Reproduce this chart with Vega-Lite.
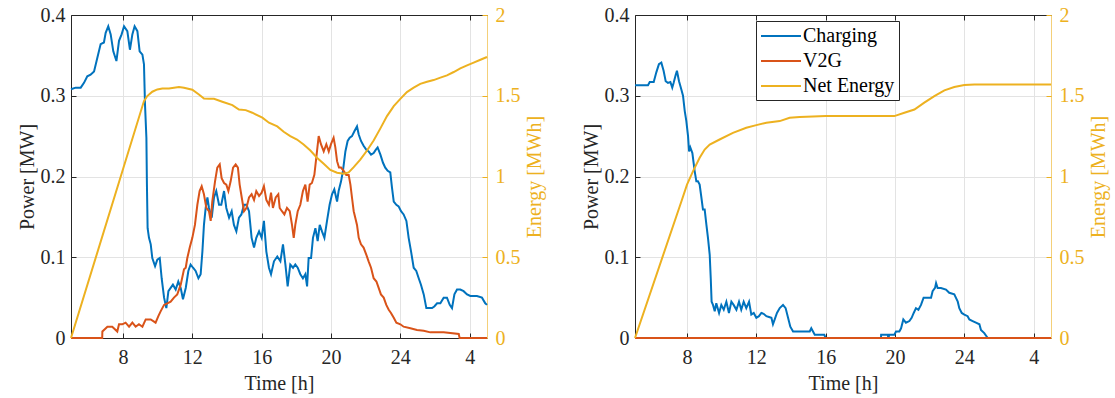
{
 "$schema": "https://vega.github.io/schema/vega-lite/v6.json",
 "background": "white",
 "padding": {"left": 17, "top": 5, "right": 5, "bottom": 5},
 "bounds": "flush",
 "spacing": 148,
 "config": {
  "font": "Liberation Serif, Times New Roman, serif",
  "view": {"stroke": null},
  "axis": {"labelFont": "Liberation Serif", "titleFont": "Liberation Serif", "labelFontSize": 20, "titleFontSize": 20, "titleFontWeight": "normal", "labelColor": "#262626", "titleColor": "#262626", "domainColor": "#262626", "tickColor": "#262626", "tickSize": -5, "labelPadding": 11, "gridColor": "#e3e3e3", "grid": false, "labelFlush": false, "labelOverlap": false},
  "legend": {"labelFont": "Liberation Serif"},
  "line": {"strokeWidth": 2}
 },
 "resolve": {"scale": {"color": "independent"}},
 "datasets": {
  "lp": [
   {"t":5,"v":0.308,"s":"Charging"},{"t":5.27,"v":0.31,"s":"Charging"},{"t":5.56,"v":0.31,"s":"Charging"},{"t":5.75,"v":0.316,"s":"Charging"},{"t":5.94,"v":0.324,"s":"Charging"},{"t":6.13,"v":0.326,"s":"Charging"},{"t":6.33,"v":0.33,"s":"Charging"},{"t":6.52,"v":0.347,"s":"Charging"},{"t":6.71,"v":0.364,"s":"Charging"},{"t":6.9,"v":0.366,"s":"Charging"},{"t":7.0,"v":0.378,"s":"Charging"},{"t":7.15,"v":0.386,"s":"Charging"},{"t":7.29,"v":0.376,"s":"Charging"},{"t":7.44,"v":0.355,"s":"Charging"},{"t":7.62,"v":0.343,"s":"Charging"},{"t":7.77,"v":0.368,"s":"Charging"},{"t":7.92,"v":0.376,"s":"Charging"},{"t":8.06,"v":0.386,"s":"Charging"},{"t":8.25,"v":0.38,"s":"Charging"},{"t":8.4,"v":0.357,"s":"Charging"},{"t":8.54,"v":0.376,"s":"Charging"},{"t":8.67,"v":0.386,"s":"Charging"},{"t":8.83,"v":0.38,"s":"Charging"},{"t":8.96,"v":0.355,"s":"Charging"},{"t":9.12,"v":0.351,"s":"Charging"},{"t":9.21,"v":0.339,"s":"Charging"},{"t":9.27,"v":0.289,"s":"Charging"},{"t":9.35,"v":0.248,"s":"Charging"},{"t":9.38,"v":0.19,"s":"Charging"},{"t":9.42,"v":0.136,"s":"Charging"},{"t":9.5,"v":0.124,"s":"Charging"},{"t":9.6,"v":0.116,"s":"Charging"},{"t":9.69,"v":0.099,"s":"Charging"},{"t":9.85,"v":0.089,"s":"Charging"},{"t":9.98,"v":0.097,"s":"Charging"},{"t":10.12,"v":0.099,"s":"Charging"},{"t":10.23,"v":0.074,"s":"Charging"},{"t":10.37,"v":0.05,"s":"Charging"},{"t":10.5,"v":0.037,"s":"Charging"},{"t":10.62,"v":0.058,"s":"Charging"},{"t":10.75,"v":0.062,"s":"Charging"},{"t":10.88,"v":0.066,"s":"Charging"},{"t":11.04,"v":0.06,"s":"Charging"},{"t":11.19,"v":0.07,"s":"Charging"},{"t":11.33,"v":0.062,"s":"Charging"},{"t":11.46,"v":0.048,"s":"Charging"},{"t":11.62,"v":0.062,"s":"Charging"},{"t":11.77,"v":0.083,"s":"Charging"},{"t":11.9,"v":0.091,"s":"Charging"},{"t":12.04,"v":0.087,"s":"Charging"},{"t":12.19,"v":0.083,"s":"Charging"},{"t":12.35,"v":0.074,"s":"Charging"},{"t":12.48,"v":0.079,"s":"Charging"},{"t":12.58,"v":0.107,"s":"Charging"},{"t":12.67,"v":0.14,"s":"Charging"},{"t":12.77,"v":0.161,"s":"Charging"},{"t":12.87,"v":0.174,"s":"Charging"},{"t":12.96,"v":0.161,"s":"Charging"},{"t":13.12,"v":0.149,"s":"Charging"},{"t":13.25,"v":0.174,"s":"Charging"},{"t":13.38,"v":0.182,"s":"Charging"},{"t":13.54,"v":0.165,"s":"Charging"},{"t":13.67,"v":0.165,"s":"Charging"},{"t":13.83,"v":0.182,"s":"Charging"},{"t":13.96,"v":0.161,"s":"Charging"},{"t":14.12,"v":0.149,"s":"Charging"},{"t":14.27,"v":0.157,"s":"Charging"},{"t":14.4,"v":0.14,"s":"Charging"},{"t":14.54,"v":0.132,"s":"Charging"},{"t":14.69,"v":0.149,"s":"Charging"},{"t":14.83,"v":0.153,"s":"Charging"},{"t":14.98,"v":0.165,"s":"Charging"},{"t":15.12,"v":0.165,"s":"Charging"},{"t":15.27,"v":0.157,"s":"Charging"},{"t":15.42,"v":0.124,"s":"Charging"},{"t":15.56,"v":0.112,"s":"Charging"},{"t":15.69,"v":0.124,"s":"Charging"},{"t":15.85,"v":0.132,"s":"Charging"},{"t":16.0,"v":0.124,"s":"Charging"},{"t":16.13,"v":0.145,"s":"Charging"},{"t":16.27,"v":0.107,"s":"Charging"},{"t":16.42,"v":0.087,"s":"Charging"},{"t":16.54,"v":0.079,"s":"Charging"},{"t":16.71,"v":0.095,"s":"Charging"},{"t":16.9,"v":0.101,"s":"Charging"},{"t":17.08,"v":0.095,"s":"Charging"},{"t":17.23,"v":0.116,"s":"Charging"},{"t":17.37,"v":0.091,"s":"Charging"},{"t":17.5,"v":0.064,"s":"Charging"},{"t":17.65,"v":0.091,"s":"Charging"},{"t":17.81,"v":0.087,"s":"Charging"},{"t":17.94,"v":0.091,"s":"Charging"},{"t":18.08,"v":0.087,"s":"Charging"},{"t":18.23,"v":0.079,"s":"Charging"},{"t":18.38,"v":0.074,"s":"Charging"},{"t":18.52,"v":0.079,"s":"Charging"},{"t":18.62,"v":0.064,"s":"Charging"},{"t":18.71,"v":0.099,"s":"Charging"},{"t":18.85,"v":0.099,"s":"Charging"},{"t":18.96,"v":0.124,"s":"Charging"},{"t":19.1,"v":0.136,"s":"Charging"},{"t":19.23,"v":0.12,"s":"Charging"},{"t":19.35,"v":0.14,"s":"Charging"},{"t":19.48,"v":0.132,"s":"Charging"},{"t":19.62,"v":0.124,"s":"Charging"},{"t":19.77,"v":0.145,"s":"Charging"},{"t":19.92,"v":0.165,"s":"Charging"},{"t":20.06,"v":0.178,"s":"Charging"},{"t":20.19,"v":0.184,"s":"Charging"},{"t":20.35,"v":0.169,"s":"Charging"},{"t":20.44,"v":0.182,"s":"Charging"},{"t":20.58,"v":0.194,"s":"Charging"},{"t":20.69,"v":0.207,"s":"Charging"},{"t":20.83,"v":0.231,"s":"Charging"},{"t":20.96,"v":0.244,"s":"Charging"},{"t":21.08,"v":0.248,"s":"Charging"},{"t":21.21,"v":0.25,"s":"Charging"},{"t":21.35,"v":0.256,"s":"Charging"},{"t":21.5,"v":0.262,"s":"Charging"},{"t":21.6,"v":0.252,"s":"Charging"},{"t":21.73,"v":0.244,"s":"Charging"},{"t":21.88,"v":0.238,"s":"Charging"},{"t":22.04,"v":0.233,"s":"Charging"},{"t":22.17,"v":0.231,"s":"Charging"},{"t":22.31,"v":0.227,"s":"Charging"},{"t":22.46,"v":0.229,"s":"Charging"},{"t":22.58,"v":0.233,"s":"Charging"},{"t":22.69,"v":0.236,"s":"Charging"},{"t":22.85,"v":0.227,"s":"Charging"},{"t":23.0,"v":0.217,"s":"Charging"},{"t":23.13,"v":0.211,"s":"Charging"},{"t":23.27,"v":0.207,"s":"Charging"},{"t":23.42,"v":0.205,"s":"Charging"},{"t":23.52,"v":0.186,"s":"Charging"},{"t":23.62,"v":0.169,"s":"Charging"},{"t":23.77,"v":0.165,"s":"Charging"},{"t":23.9,"v":0.163,"s":"Charging"},{"t":24.04,"v":0.157,"s":"Charging"},{"t":24.19,"v":0.153,"s":"Charging"},{"t":24.35,"v":0.145,"s":"Charging"},{"t":24.48,"v":0.124,"s":"Charging"},{"t":24.62,"v":0.107,"s":"Charging"},{"t":24.77,"v":0.087,"s":"Charging"},{"t":24.92,"v":0.083,"s":"Charging"},{"t":25.06,"v":0.074,"s":"Charging"},{"t":25.19,"v":0.066,"s":"Charging"},{"t":25.35,"v":0.054,"s":"Charging"},{"t":25.5,"v":0.037,"s":"Charging"},{"t":25.63,"v":0.037,"s":"Charging"},{"t":25.83,"v":0.037,"s":"Charging"},{"t":25.96,"v":0.039,"s":"Charging"},{"t":26.12,"v":0.043,"s":"Charging"},{"t":26.31,"v":0.043,"s":"Charging"},{"t":26.5,"v":0.05,"s":"Charging"},{"t":26.69,"v":0.05,"s":"Charging"},{"t":26.85,"v":0.041,"s":"Charging"},{"t":26.98,"v":0.037,"s":"Charging"},{"t":27.12,"v":0.054,"s":"Charging"},{"t":27.27,"v":0.06,"s":"Charging"},{"t":27.46,"v":0.06,"s":"Charging"},{"t":27.65,"v":0.058,"s":"Charging"},{"t":27.85,"v":0.054,"s":"Charging"},{"t":28.04,"v":0.052,"s":"Charging"},{"t":28.42,"v":0.052,"s":"Charging"},{"t":28.71,"v":0.05,"s":"Charging"},{"t":28.9,"v":0.043,"s":"Charging"},{"t":29,"v":0.041,"s":"Charging"},
   {"t":5,"v":0,"s":"V2G"},{"t":6.8,"v":0,"s":"V2G"},{"t":6.81,"v":0.008,"s":"V2G"},{"t":7.1,"v":0.014,"s":"V2G"},{"t":7.38,"v":0.014,"s":"V2G"},{"t":7.67,"v":0.008,"s":"V2G"},{"t":7.77,"v":0.017,"s":"V2G"},{"t":7.96,"v":0.017,"s":"V2G"},{"t":8.15,"v":0.019,"s":"V2G"},{"t":8.35,"v":0.014,"s":"V2G"},{"t":8.54,"v":0.019,"s":"V2G"},{"t":8.73,"v":0.014,"s":"V2G"},{"t":8.92,"v":0.017,"s":"V2G"},{"t":9.12,"v":0.014,"s":"V2G"},{"t":9.31,"v":0.023,"s":"V2G"},{"t":9.6,"v":0.023,"s":"V2G"},{"t":9.88,"v":0.019,"s":"V2G"},{"t":10.04,"v":0.027,"s":"V2G"},{"t":10.17,"v":0.033,"s":"V2G"},{"t":10.37,"v":0.041,"s":"V2G"},{"t":10.56,"v":0.043,"s":"V2G"},{"t":10.75,"v":0.045,"s":"V2G"},{"t":10.94,"v":0.05,"s":"V2G"},{"t":11.13,"v":0.054,"s":"V2G"},{"t":11.33,"v":0.066,"s":"V2G"},{"t":11.52,"v":0.085,"s":"V2G"},{"t":11.62,"v":0.087,"s":"V2G"},{"t":11.71,"v":0.099,"s":"V2G"},{"t":11.85,"v":0.112,"s":"V2G"},{"t":12.0,"v":0.124,"s":"V2G"},{"t":12.15,"v":0.14,"s":"V2G"},{"t":12.29,"v":0.165,"s":"V2G"},{"t":12.42,"v":0.182,"s":"V2G"},{"t":12.54,"v":0.188,"s":"V2G"},{"t":12.67,"v":0.178,"s":"V2G"},{"t":12.81,"v":0.161,"s":"V2G"},{"t":12.96,"v":0.157,"s":"V2G"},{"t":13.06,"v":0.145,"s":"V2G"},{"t":13.15,"v":0.169,"s":"V2G"},{"t":13.31,"v":0.194,"s":"V2G"},{"t":13.44,"v":0.211,"s":"V2G"},{"t":13.58,"v":0.215,"s":"V2G"},{"t":13.69,"v":0.198,"s":"V2G"},{"t":13.83,"v":0.192,"s":"V2G"},{"t":13.96,"v":0.19,"s":"V2G"},{"t":14.08,"v":0.182,"s":"V2G"},{"t":14.21,"v":0.194,"s":"V2G"},{"t":14.35,"v":0.211,"s":"V2G"},{"t":14.5,"v":0.215,"s":"V2G"},{"t":14.63,"v":0.211,"s":"V2G"},{"t":14.73,"v":0.19,"s":"V2G"},{"t":14.85,"v":0.174,"s":"V2G"},{"t":14.98,"v":0.157,"s":"V2G"},{"t":15.12,"v":0.161,"s":"V2G"},{"t":15.27,"v":0.174,"s":"V2G"},{"t":15.42,"v":0.178,"s":"V2G"},{"t":15.56,"v":0.171,"s":"V2G"},{"t":15.69,"v":0.182,"s":"V2G"},{"t":15.85,"v":0.176,"s":"V2G"},{"t":16.0,"v":0.18,"s":"V2G"},{"t":16.13,"v":0.188,"s":"V2G"},{"t":16.27,"v":0.171,"s":"V2G"},{"t":16.42,"v":0.165,"s":"V2G"},{"t":16.54,"v":0.18,"s":"V2G"},{"t":16.65,"v":0.161,"s":"V2G"},{"t":16.81,"v":0.174,"s":"V2G"},{"t":16.96,"v":0.178,"s":"V2G"},{"t":17.04,"v":0.161,"s":"V2G"},{"t":17.17,"v":0.157,"s":"V2G"},{"t":17.31,"v":0.153,"s":"V2G"},{"t":17.46,"v":0.161,"s":"V2G"},{"t":17.62,"v":0.157,"s":"V2G"},{"t":17.75,"v":0.14,"s":"V2G"},{"t":17.85,"v":0.124,"s":"V2G"},{"t":17.94,"v":0.14,"s":"V2G"},{"t":18.08,"v":0.157,"s":"V2G"},{"t":18.23,"v":0.165,"s":"V2G"},{"t":18.38,"v":0.182,"s":"V2G"},{"t":18.52,"v":0.19,"s":"V2G"},{"t":18.65,"v":0.169,"s":"V2G"},{"t":18.77,"v":0.19,"s":"V2G"},{"t":18.9,"v":0.192,"s":"V2G"},{"t":19.04,"v":0.202,"s":"V2G"},{"t":19.15,"v":0.223,"s":"V2G"},{"t":19.29,"v":0.25,"s":"V2G"},{"t":19.42,"v":0.24,"s":"V2G"},{"t":19.58,"v":0.231,"s":"V2G"},{"t":19.73,"v":0.24,"s":"V2G"},{"t":19.87,"v":0.231,"s":"V2G"},{"t":20.0,"v":0.24,"s":"V2G"},{"t":20.15,"v":0.248,"s":"V2G"},{"t":20.25,"v":0.236,"s":"V2G"},{"t":20.35,"v":0.219,"s":"V2G"},{"t":20.46,"v":0.211,"s":"V2G"},{"t":20.58,"v":0.211,"s":"V2G"},{"t":20.73,"v":0.207,"s":"V2G"},{"t":20.88,"v":0.202,"s":"V2G"},{"t":21.02,"v":0.202,"s":"V2G"},{"t":21.12,"v":0.19,"s":"V2G"},{"t":21.21,"v":0.174,"s":"V2G"},{"t":21.31,"v":0.157,"s":"V2G"},{"t":21.4,"v":0.149,"s":"V2G"},{"t":21.5,"v":0.14,"s":"V2G"},{"t":21.6,"v":0.124,"s":"V2G"},{"t":21.73,"v":0.116,"s":"V2G"},{"t":21.88,"v":0.112,"s":"V2G"},{"t":22.04,"v":0.103,"s":"V2G"},{"t":22.17,"v":0.095,"s":"V2G"},{"t":22.31,"v":0.087,"s":"V2G"},{"t":22.46,"v":0.074,"s":"V2G"},{"t":22.62,"v":0.07,"s":"V2G"},{"t":22.75,"v":0.062,"s":"V2G"},{"t":22.88,"v":0.054,"s":"V2G"},{"t":23.04,"v":0.05,"s":"V2G"},{"t":23.19,"v":0.041,"s":"V2G"},{"t":23.33,"v":0.035,"s":"V2G"},{"t":23.46,"v":0.031,"s":"V2G"},{"t":23.62,"v":0.025,"s":"V2G"},{"t":23.77,"v":0.019,"s":"V2G"},{"t":24.0,"v":0.017,"s":"V2G"},{"t":24.19,"v":0.014,"s":"V2G"},{"t":24.58,"v":0.012,"s":"V2G"},{"t":24.96,"v":0.01,"s":"V2G"},{"t":25.35,"v":0.009,"s":"V2G"},{"t":25.73,"v":0.007,"s":"V2G"},{"t":26.5,"v":0.007,"s":"V2G"},{"t":27.37,"v":0.005,"s":"V2G"},{"t":27.42,"v":0,"s":"V2G"},{"t":29,"v":0,"s":"V2G"}
  ],
  "le": [
   {"t":5,"v":0},{"t":9.21,"v":1.467},{"t":9.4,"v":1.498},{"t":9.69,"v":1.525},{"t":9.98,"v":1.539},{"t":10.27,"v":1.545},{"t":10.65,"v":1.545},{"t":11.23,"v":1.554},{"t":11.52,"v":1.55},{"t":12,"v":1.537},{"t":12.38,"v":1.508},{"t":12.67,"v":1.483},{"t":12.96,"v":1.481},{"t":13.25,"v":1.481},{"t":13.73,"v":1.463},{"t":14.31,"v":1.442},{"t":14.69,"v":1.415},{"t":15.08,"v":1.411},{"t":15.46,"v":1.395},{"t":16.04,"v":1.364},{"t":16.42,"v":1.333},{"t":16.9,"v":1.31},{"t":17.27,"v":1.277},{"t":17.65,"v":1.25},{"t":18.04,"v":1.229},{"t":18.42,"v":1.198},{"t":18.81,"v":1.161},{"t":19.19,"v":1.116},{"t":19.58,"v":1.079},{"t":19.96,"v":1.041},{"t":20.35,"v":1.023},{"t":20.73,"v":1.017},{"t":21.02,"v":1.025},{"t":21.31,"v":1.058},{"t":21.69,"v":1.105},{"t":22.08,"v":1.161},{"t":22.46,"v":1.223},{"t":22.85,"v":1.298},{"t":23.23,"v":1.374},{"t":23.62,"v":1.436},{"t":24,"v":1.481},{"t":24.38,"v":1.523},{"t":24.77,"v":1.55},{"t":25.15,"v":1.574},{"t":25.54,"v":1.587},{"t":25.92,"v":1.597},{"t":26.31,"v":1.612},{"t":26.69,"v":1.626},{"t":27.08,"v":1.647},{"t":27.46,"v":1.669},{"t":27.85,"v":1.688},{"t":28.23,"v":1.705},{"t":28.62,"v":1.723},{"t":29,"v":1.74}
  ],
  "rp": [
   {"t":5,"v":0.313,"s":"Charging"},{"t":5.75,"v":0.313,"s":"Charging"},{"t":5.85,"v":0.317,"s":"Charging"},{"t":6.08,"v":0.317,"s":"Charging"},{"t":6.23,"v":0.329,"s":"Charging"},{"t":6.38,"v":0.339,"s":"Charging"},{"t":6.52,"v":0.341,"s":"Charging"},{"t":6.65,"v":0.331,"s":"Charging"},{"t":6.77,"v":0.318,"s":"Charging"},{"t":6.9,"v":0.316,"s":"Charging"},{"t":7.04,"v":0.317,"s":"Charging"},{"t":7.15,"v":0.31,"s":"Charging"},{"t":7.23,"v":0.316,"s":"Charging"},{"t":7.35,"v":0.326,"s":"Charging"},{"t":7.42,"v":0.331,"s":"Charging"},{"t":7.54,"v":0.318,"s":"Charging"},{"t":7.67,"v":0.308,"s":"Charging"},{"t":7.77,"v":0.3,"s":"Charging"},{"t":7.87,"v":0.281,"s":"Charging"},{"t":7.96,"v":0.269,"s":"Charging"},{"t":8.06,"v":0.25,"s":"Charging"},{"t":8.12,"v":0.231,"s":"Charging"},{"t":8.19,"v":0.236,"s":"Charging"},{"t":8.31,"v":0.229,"s":"Charging"},{"t":8.44,"v":0.207,"s":"Charging"},{"t":8.54,"v":0.194,"s":"Charging"},{"t":8.63,"v":0.194,"s":"Charging"},{"t":8.73,"v":0.19,"s":"Charging"},{"t":8.83,"v":0.174,"s":"Charging"},{"t":8.92,"v":0.159,"s":"Charging"},{"t":9.02,"v":0.159,"s":"Charging"},{"t":9.12,"v":0.14,"s":"Charging"},{"t":9.21,"v":0.124,"s":"Charging"},{"t":9.31,"v":0.103,"s":"Charging"},{"t":9.37,"v":0.074,"s":"Charging"},{"t":9.42,"v":0.045,"s":"Charging"},{"t":9.5,"v":0.041,"s":"Charging"},{"t":9.6,"v":0.033,"s":"Charging"},{"t":9.69,"v":0.043,"s":"Charging"},{"t":9.85,"v":0.031,"s":"Charging"},{"t":9.98,"v":0.041,"s":"Charging"},{"t":10.12,"v":0.035,"s":"Charging"},{"t":10.27,"v":0.045,"s":"Charging"},{"t":10.42,"v":0.031,"s":"Charging"},{"t":10.56,"v":0.045,"s":"Charging"},{"t":10.69,"v":0.041,"s":"Charging"},{"t":10.85,"v":0.035,"s":"Charging"},{"t":11.0,"v":0.045,"s":"Charging"},{"t":11.13,"v":0.035,"s":"Charging"},{"t":11.27,"v":0.045,"s":"Charging"},{"t":11.42,"v":0.037,"s":"Charging"},{"t":11.58,"v":0.045,"s":"Charging"},{"t":11.71,"v":0.029,"s":"Charging"},{"t":11.85,"v":0.031,"s":"Charging"},{"t":12.0,"v":0.025,"s":"Charging"},{"t":12.15,"v":0.027,"s":"Charging"},{"t":12.29,"v":0.031,"s":"Charging"},{"t":12.42,"v":0.03,"s":"Charging"},{"t":12.58,"v":0.027,"s":"Charging"},{"t":12.73,"v":0.026,"s":"Charging"},{"t":12.87,"v":0.025,"s":"Charging"},{"t":12.96,"v":0.017,"s":"Charging"},{"t":13.06,"v":0.023,"s":"Charging"},{"t":13.19,"v":0.031,"s":"Charging"},{"t":13.35,"v":0.037,"s":"Charging"},{"t":13.54,"v":0.041,"s":"Charging"},{"t":13.69,"v":0.037,"s":"Charging"},{"t":13.83,"v":0.025,"s":"Charging"},{"t":13.96,"v":0.014,"s":"Charging"},{"t":14.12,"v":0.008,"s":"Charging"},{"t":15.08,"v":0.008,"s":"Charging"},{"t":15.17,"v":0.012,"s":"Charging"},{"t":15.27,"v":0.008,"s":"Charging"},{"t":15.37,"v":0.004,"s":"Charging"},{"t":15.92,"v":0.004,"s":"Charging"},{"t":16.0,"v":0,"s":"Charging"},{"t":19.19,"v":0,"s":"Charging"},{"t":19.2,"v":0.004,"s":"Charging"},{"t":19.58,"v":0.004,"s":"Charging"},{"t":19.62,"v":0,"s":"Charging"},{"t":19.67,"v":0.004,"s":"Charging"},{"t":19.96,"v":0.004,"s":"Charging"},{"t":20.06,"v":0.008,"s":"Charging"},{"t":20.25,"v":0.008,"s":"Charging"},{"t":20.35,"v":0.012,"s":"Charging"},{"t":20.48,"v":0.023,"s":"Charging"},{"t":20.63,"v":0.019,"s":"Charging"},{"t":20.83,"v":0.021,"s":"Charging"},{"t":20.96,"v":0.025,"s":"Charging"},{"t":21.08,"v":0.031,"s":"Charging"},{"t":21.21,"v":0.037,"s":"Charging"},{"t":21.35,"v":0.035,"s":"Charging"},{"t":21.5,"v":0.041,"s":"Charging"},{"t":21.65,"v":0.05,"s":"Charging"},{"t":22.08,"v":0.05,"s":"Charging"},{"t":22.17,"v":0.058,"s":"Charging"},{"t":22.31,"v":0.062,"s":"Charging"},{"t":22.37,"v":0.068,"s":"Charging"},{"t":22.46,"v":0.062,"s":"Charging"},{"t":22.65,"v":0.062,"s":"Charging"},{"t":22.94,"v":0.06,"s":"Charging"},{"t":23.13,"v":0.056,"s":"Charging"},{"t":23.42,"v":0.054,"s":"Charging"},{"t":23.62,"v":0.045,"s":"Charging"},{"t":23.71,"v":0.037,"s":"Charging"},{"t":23.85,"v":0.031,"s":"Charging"},{"t":24.0,"v":0.029,"s":"Charging"},{"t":24.19,"v":0.027,"s":"Charging"},{"t":24.29,"v":0.023,"s":"Charging"},{"t":24.48,"v":0.021,"s":"Charging"},{"t":24.67,"v":0.019,"s":"Charging"},{"t":24.87,"v":0.017,"s":"Charging"},{"t":24.96,"v":0.01,"s":"Charging"},{"t":25.15,"v":0.006,"s":"Charging"},{"t":25.35,"v":0,"s":"Charging"},{"t":29,"v":0,"s":"Charging"},
   {"t":5,"v":0,"s":"V2G"},{"t":29,"v":0,"s":"V2G"}
  ],
  "re": [
   {"t":5,"v":0},{"t":7.69,"v":0.85},{"t":8,"v":0.95},{"t":8.35,"v":1.033},{"t":8.73,"v":1.116},{"t":9.02,"v":1.167},{"t":9.31,"v":1.198},{"t":9.88,"v":1.229},{"t":10.65,"v":1.27},{"t":11.42,"v":1.302},{"t":12,"v":1.318},{"t":12.58,"v":1.333},{"t":13.35,"v":1.343},{"t":13.92,"v":1.364},{"t":14.5,"v":1.368},{"t":15.27,"v":1.372},{"t":16,"v":1.374},{"t":19.96,"v":1.374},{"t":20.54,"v":1.395},{"t":21.12,"v":1.415},{"t":21.69,"v":1.457},{"t":22.27,"v":1.498},{"t":22.85,"v":1.533},{"t":23.42,"v":1.554},{"t":24,"v":1.566},{"t":24.58,"v":1.57},{"t":29,"v":1.57}
  ]
 },
 "hconcat": [
  {
   "width": 416, "height": 323,
   "resolve": {"scale": {"y": "independent"}, "axis": {"x": "independent"}},
   "layer": [
    {"data": {"name": "lp"}, "mark": {"type": "line", "strokeWidth": 2},
     "encoding": {
      "x": {"field": "t", "type": "quantitative", "scale": {"domain": [5, 29], "nice": false, "zero": false}, "axis": {"orient": "bottom", "title": "Time [h]", "values": [8, 12, 16, 20, 24, 28], "labelExpr": "datum.value > 24 ? datum.value - 24 : datum.value", "grid": true, "labelFont": "Liberation Serif", "labelPadding": 14, "titlePadding": 6}},
      "y": {"field": "v", "type": "quantitative", "scale": {"domain": [0, 0.4], "nice": false}, "axis": {"orient": "left", "title": "Power [MW]", "values": [0, 0.1, 0.2, 0.3, 0.4], "format": "~g", "grid": true, "labelFont": "Liberation Serif", "titlePadding": 3}},
      "color": {"field": "s", "type": "nominal", "scale": {"domain": ["Charging", "V2G", "Net Energy"], "range": ["#0072BD", "#D95319", "#EDB120"]}, "legend": null}
     }},
    {"data": {"name": "le"}, "mark": {"type": "line", "strokeWidth": 2},
     "encoding": {
      "x": {"field": "t", "type": "quantitative", "scale": {"domain": [5, 29], "nice": false, "zero": false}, "axis": {"orient": "top", "title": null, "labels": false, "values": [8, 12, 16, 20, 24, 28], "grid": false}},
      "y": {"field": "v", "type": "quantitative", "scale": {"domain": [0, 2], "nice": false}, "axis": {"orient": "right", "title": "Energy [MWh]", "values": [0, 0.5, 1, 1.5, 2], "format": "~g", "labelFont": "Liberation Serif", "labelColor": "#EDB120", "titleColor": "#EDB120", "domainColor": "#EDB120", "domainOpacity": 0.6, "tickColor": "#EDB120", "titleAngle": 270, "labelPadding": 13, "titlePadding": 24}},
      "color": {"datum": "Net Energy", "type": "nominal", "legend": null}
     }}
   ]
  },
  {
   "width": 416, "height": 323,
   "resolve": {"scale": {"y": "independent"}, "axis": {"x": "independent"}},
   "layer": [
    {"data": {"name": "rp"}, "mark": {"type": "line", "strokeWidth": 2},
     "encoding": {
      "x": {"field": "t", "type": "quantitative", "scale": {"domain": [5, 29], "nice": false, "zero": false}, "axis": {"orient": "bottom", "title": "Time [h]", "values": [8, 12, 16, 20, 24, 28], "labelExpr": "datum.value > 24 ? datum.value - 24 : datum.value", "grid": true, "labelFont": "Liberation Serif", "labelPadding": 14, "titlePadding": 6}},
      "y": {"field": "v", "type": "quantitative", "scale": {"domain": [0, 0.4], "nice": false}, "axis": {"orient": "left", "title": "Power [MW]", "values": [0, 0.1, 0.2, 0.3, 0.4], "format": "~g", "grid": true, "labelFont": "Liberation Serif", "titlePadding": 3}},
      "color": {"field": "s", "type": "nominal", "scale": {"domain": ["Charging", "V2G", "Net Energy"], "range": ["#0072BD", "#D95319", "#EDB120"]},
       "legend": {"orient": "none", "legendX": 121, "legendY": 6, "title": null, "symbolType": "M-1,0H3", "symbolSize": 400, "symbolStrokeWidth": 2, "labelFontSize": 20, "labelColor": "black", "strokeColor": "#262626", "fillColor": "white", "padding": 4, "labelOffset": 21, "rowPadding": 4}}
     }},
    {"data": {"name": "re"}, "mark": {"type": "line", "strokeWidth": 2},
     "encoding": {
      "x": {"field": "t", "type": "quantitative", "scale": {"domain": [5, 29], "nice": false, "zero": false}, "axis": {"orient": "top", "title": null, "labels": false, "values": [8, 12, 16, 20, 24, 28], "grid": false}},
      "y": {"field": "v", "type": "quantitative", "scale": {"domain": [0, 2], "nice": false}, "axis": {"orient": "right", "title": "Energy [MWh]", "values": [0, 0.5, 1, 1.5, 2], "format": "~g", "labelFont": "Liberation Serif", "labelColor": "#EDB120", "titleColor": "#EDB120", "domainColor": "#EDB120", "domainOpacity": 0.6, "tickColor": "#EDB120", "titleAngle": 270, "labelPadding": 13, "titlePadding": 24}},
      "color": {"datum": "Net Energy", "type": "nominal"}
     }}
   ]
  }
 ]
}
